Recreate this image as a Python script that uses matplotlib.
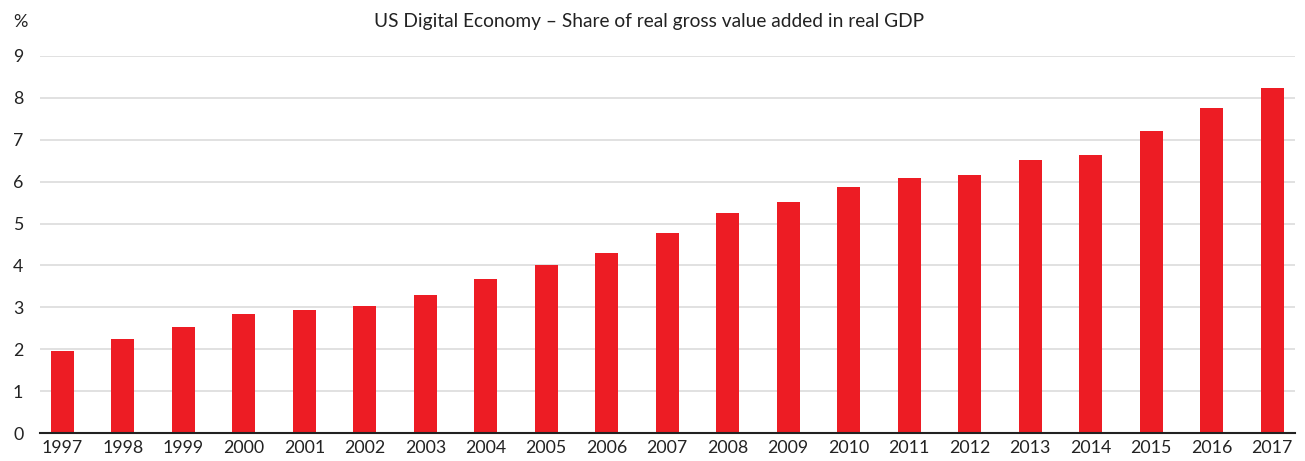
import matplotlib
matplotlib.use("Agg")
import matplotlib.pyplot as plt

# dados
anos = [str(a) for a in range(1997, 2018)]
participacao = [1.96, 2.25, 2.53, 2.84, 2.93, 3.03, 3.29, 3.67, 4.01, 4.29, 4.77,
                5.25, 5.51, 5.87, 6.08, 6.17, 6.51, 6.63, 7.20, 7.75, 8.23]
titulo = "US Digital Economy \u2013 Share of real gross value added in real GDP"

plt.rcParams['font.family'] = ['Lato', 'DejaVu Sans']

fig = plt.figure(figsize=(13.05, 4.61), dpi=100)
ax = fig.add_axes([40 / 1305, (461 - 433) / 461, (1295 - 40) / 1305, (433 - 56) / 461])

x = range(len(anos))
ax.bar(x, participacao, width=0.38, color='#ED1C24', zorder=3)

ax.set_xlim(-0.37, len(anos) - 1 + 0.38)
ax.set_ylim(0, 9)
ax.set_yticks(range(0, 10))
ax.set_xticks(list(x))
ax.set_xticklabels(anos)
ax.tick_params(axis='both', length=0, labelsize=12.8, colors='#222222')
ax.tick_params(axis='y', pad=12)
ax.tick_params(axis='x', pad=5)

ax.grid(axis='y', color='#dcdcdc', linewidth=1.2, zorder=0)
for lado in ['top', 'right', 'left']:
    ax.spines[lado].set_visible(False)
ax.spines['bottom'].set_color('#222222')
ax.spines['bottom'].set_linewidth(1.5)
ax.spines['bottom'].set_zorder(4)

fig.text(20 / 1305, 1 - 22 / 461, '%', ha='center', va='center', fontsize=13, color='#222222')
fig.text(649 / 1305, 1 - 22 / 461, titulo, ha='center', va='center', fontsize=13.8, color='#222222')

fig.savefig('out.png', dpi=100)
